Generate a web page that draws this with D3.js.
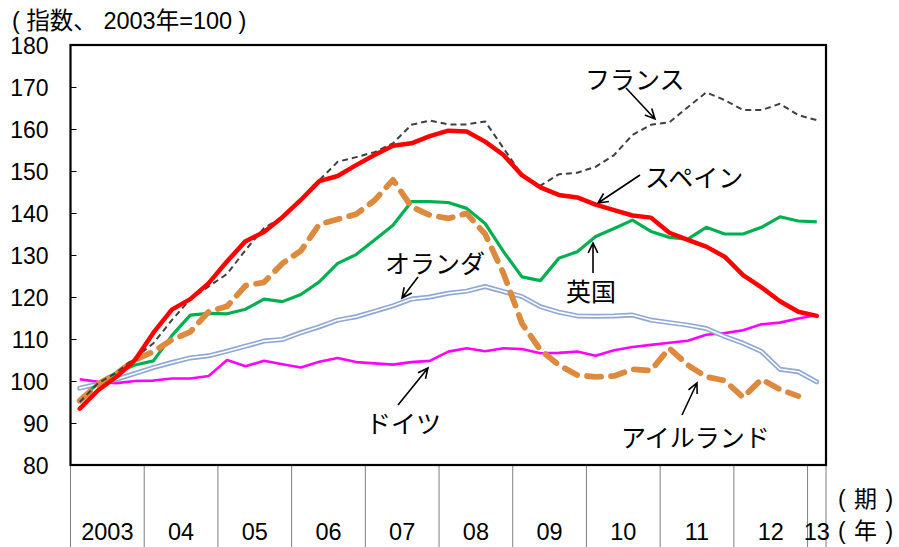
<!DOCTYPE html>
<html><head><meta charset="utf-8">
<script src="https://cdn.jsdelivr.net/npm/d3@7"></script>
<style>
html,body{margin:0;padding:0;background:#fff;}
text{font-family:"Liberation Sans","Noto Sans CJK JP",sans-serif;fill:#000;}
</style></head>
<body><svg id="c" width="899" height="547"></svg>
<script>
const quarters = ["2003Q1","2003Q2","2003Q3","2003Q4","2004Q1","2004Q2","2004Q3","2004Q4",
"2005Q1","2005Q2","2005Q3","2005Q4","2006Q1","2006Q2","2006Q3","2006Q4",
"2007Q1","2007Q2","2007Q3","2007Q4","2008Q1","2008Q2","2008Q3","2008Q4",
"2009Q1","2009Q2","2009Q3","2009Q4","2010Q1","2010Q2","2010Q3","2010Q4",
"2011Q1","2011Q2","2011Q3","2011Q4","2012Q1","2012Q2","2012Q3","2012Q4","2013Q1"];
const yearStarts = ["2003Q1","2004Q1","2005Q1","2006Q1","2007Q1","2008Q1","2009Q1","2010Q1","2011Q1","2012Q1","2013Q1"];
const yearLabels = ["2003","04","05","06","07","08","09","10","11","12","13"];
const yTicks = [80,90,100,110,120,130,140,150,160,170,180];

const germany = [100.4,99.8,99.5,100.0,100.1,100.6,100.6,101.2,105.0,103.5,104.8,104.0,103.2,104.6,105.5,104.5,
104.2,103.9,104.5,104.8,107.0,107.8,107.1,107.8,107.6,106.6,106.7,107.0,106.0,107.3,108.1,108.6,
109.1,109.6,111.0,111.4,112.1,113.5,113.9,114.9,115.7];
const netherlands = [98.3,99.3,100.4,101.8,103.2,104.4,105.5,106.0,107.1,108.3,109.5,109.9,111.5,112.9,114.5,115.3,
116.6,117.9,119.5,120.0,120.9,121.4,122.5,121.3,120.1,117.7,116.4,115.5,115.4,115.5,115.7,114.5,
113.9,113.3,112.5,110.6,109.0,107.0,102.8,102.2,99.8];
const uk = [95.5,99.5,102.0,103.8,104.8,110.8,115.7,116.1,116.0,117.1,119.5,118.9,120.6,123.6,128.0,130.1,
133.6,137.1,142.7,142.7,142.5,141.1,137.5,130.8,124.8,123.9,129.2,130.8,134.4,136.3,138.3,135.6,
134.2,133.8,136.6,135.0,135.0,136.6,139.1,138.1,137.9];
const ireland = [95.3,99.3,101.8,105.0,107.0,109.8,111.7,116.5,117.8,122.7,123.5,128.0,131.0,137.3,138.5,139.7,
143.0,147.9,141.5,139.5,138.7,139.9,135.0,125.6,113.7,107.4,103.8,101.4,101.0,101.2,102.8,102.5,
107.8,103.8,101.0,100.1,96.1,100.4,98.0,96.4,null];
const france = [95.0,99.5,102.0,105.5,109.0,114.5,119.5,122.5,125.5,131.2,136.4,139.0,143.0,147.8,152.2,153.3,
154.5,156.6,161.0,162.0,161.1,161.1,161.8,155.4,149.0,146.5,149.2,149.6,151.0,153.8,158.6,161.0,
161.6,165.2,168.7,166.9,164.5,164.5,166.0,163.3,162.1];
const spain = [93.4,97.8,101.0,105.0,111.5,117.0,119.5,123.3,128.5,133.3,135.5,139.0,143.1,147.6,148.8,151.4,
153.8,156.0,156.6,158.3,159.6,159.4,157.0,153.8,149.0,146.1,144.3,143.7,142.0,140.7,139.4,138.9,
135.3,133.6,132.0,129.6,125.2,122.3,119.0,116.5,115.5];

const seriesNames = ["ドイツ","オランダ","英国","アイルランド","フランス","スペイン"];
const seriesValues = [germany, netherlands, uk, ireland, france, spain];

const svg = d3.select("#c");
const L = 70.5, R = 826, T = 45, B = 465;
const x = d3.scaleBand().domain(quarters).range([L, R]);
const y = d3.scaleLinear().domain([80,180]).range([B, T]);
const cx = q => x(q) + x.bandwidth()/2;

// y axis
const yAxis = d3.axisLeft(y).tickValues(yTicks).tickSizeInner(-6).tickSizeOuter(0).tickPadding(22);
const ga = svg.append("g").attr("transform",`translate(${L},0)`).call(yAxis);
ga.select(".domain").remove();
ga.selectAll(".tick line").attr("stroke","#000").attr("stroke-width",1);
ga.selectAll(".tick text").style("font-size","23px").attr("font-family",null).attr("dy","0.36em");

// bottom category area separators
const seps = yearStarts.map(q => x(q)).concat([R]);
svg.append("g").selectAll("line").data(seps).join("line")
  .attr("x1",d=>d).attr("x2",d=>d).attr("y1",B).attr("y2",547)
  .attr("stroke","#7f7f7f").attr("stroke-width",1);
svg.append("g").selectAll("text").data(yearLabels).join("text")
  .attr("x",(d,i)=> (seps[i]+seps[i+1])/2)
  .attr("y",540).attr("text-anchor","middle").style("font-size","23.5px").text(d=>d);
svg.append("text").attr("x",838).attr("y",507).style("font-size","23px").style("letter-spacing","1px").text("( 期 )");
svg.append("text").attr("x",838).attr("y",539).style("font-size","23px").style("letter-spacing","1px").text("( 年 )");

// title
svg.append("text").attr("x",12).attr("y",29).style("font-size","23.5px").text("( 指数、 2003年=100 )");

// lines
const line = d3.line().defined(d=>d.v!==null).x(d=>cx(d.q)).y(d=>y(d.v));
const toPts = arr => arr.map((v,i)=>({q:quarters[i], v}));
const styles = [
  {stroke:"#ff00ff", w:2.6},
  {stroke:"#8fa8d4", w:5, inner:true},
  {stroke:"#00b050", w:3.2},
  {stroke:"#dd8a3e", w:5.8, dash:"14,10", cap:"round"},
  {stroke:"#404040", w:2, dash:"6,4"},
  {stroke:"#ff0000", w:4.5, cap:"round"}
];
const gl = svg.append("g");
seriesValues.forEach((arr,k)=>{
  const s = styles[k];
  const p = gl.append("path").datum(toPts(arr)).attr("d",line)
    .attr("fill","none").attr("stroke",s.stroke).attr("stroke-width",s.w)
    .attr("stroke-linejoin","round").attr("stroke-linecap",s.cap||"butt");
  if (s.dash) p.attr("stroke-dasharray",s.dash);
  if (s.inner) {
    p.attr("stroke-linecap","round");
    gl.append("path").datum(toPts(arr)).attr("d",line)
      .attr("fill","none").attr("stroke","#fff").attr("stroke-width",1.6)
      .attr("stroke-linejoin","round").attr("stroke-linecap","round");
  }
});

// frame
svg.append("rect").attr("x",L).attr("y",T).attr("width",R-L).attr("height",B-T)
  .attr("fill","none").attr("stroke","#000").attr("stroke-width",2.2);

// annotations
const annotations = [
  {t:"フランス", tx:585, ty:78, a:[626,88,655,119]},
  {t:"スペイン", tx:645, ty:176, a:[640,175,598,203]},
  {t:"英国", tx:566, ty:290, a:[593,273,593,243]},
  {t:"オランダ", tx:385, ty:262, a:[418,277,402,298]},
  {t:"ドイツ", tx:366, ty:422, a:[398,405,428,368]},
  {t:"アイルランド", tx:621, ty:436, a:[682,415,697,383]}
];
const gn = svg.append("g");
annotations.forEach(an=>{
  gn.append("text").attr("x",an.tx).attr("y",an.ty).attr("dominant-baseline","central")
    .style("font-size","25px").style("font-family","'Noto Sans CJK JP',sans-serif").text(an.t);
  const [x1,y1,x2,y2] = an.a;
  const ang = Math.atan2(y2-y1,x2-x1), len=11, sp=0.45;
  const d = `M${x1},${y1}L${x2},${y2}M${x2-len*Math.cos(ang-sp)},${y2-len*Math.sin(ang-sp)}L${x2},${y2}L${x2-len*Math.cos(ang+sp)},${y2-len*Math.sin(ang+sp)}`;
  gn.append("path").attr("d",d).attr("fill","none").attr("stroke","#000").attr("stroke-width",1.6);
});
</script></body></html>
